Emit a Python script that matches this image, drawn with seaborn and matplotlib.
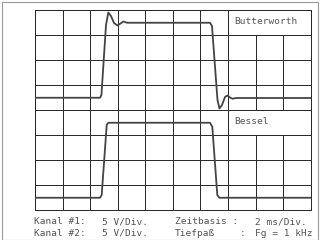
import matplotlib
matplotlib.use("Agg")
import matplotlib.pyplot as plt
from matplotlib.patches import Rectangle
import seaborn as sns
import pandas as pd

# Trace data in screen divisions (x: 0..10 div, y: 0..8 div)
butter_x = [0, 2.358, 2.41, 2.575, 2.66, 2.757, 2.865, 2.992, 3.101, 3.21, 3.337,
            6.347, 6.42, 6.619, 6.692, 6.783, 6.892, 6.982, 7.073, 7.164, 7.29, 10]
butter_y = [4.49, 4.49, 4.60, 7.40, 7.90, 7.76, 7.48, 7.38, 7.46, 7.54, 7.49,
            7.49, 7.36, 4.40, 4.06, 4.20, 4.52, 4.58, 4.50, 4.45, 4.48, 4.48]
bessel_x = [0, 2.358, 2.419, 2.601, 2.659, 6.347, 6.431, 6.612, 6.685, 10]
bessel_y = [0.49, 0.49, 0.60, 3.40, 3.49, 3.49, 3.33, 0.60, 0.49, 0.49]

labels = ["Butterworth", "Bessel"]
info_line1 = ["Kanal #1:", "5 V/Div.", "Zeitbasis :", "2 ms/Div."]
info_line2 = ["Kanal #2:", "5 V/Div.", "Tiefpaß", ":", "Fg = 1 kHz"]

sns.set_style("white")
plt.rcParams['font.family'] = ['DejaVu Sans Mono', 'DejaVu Sans']

fig = plt.figure(figsize=(3.2, 2.4), dpi=100)
W, H = 320.0, 240.0
ax = fig.add_axes([35 / W, 1 - 210 / H, 275.7 / W, 200 / H])
ax.set_xlim(0, 10)
ax.set_ylim(0, 8)

grid_col = "#262626"
ax.set_xticks(range(11))
ax.set_yticks(range(9))
ax.tick_params(length=0, labelbottom=False, labelleft=False)
ax.grid(True, color=grid_col, lw=0.7)
ax.set_axisbelow(True)
for s in ax.spines.values():
    s.set_color(grid_col)
    s.set_linewidth(0.7)

# label boxes (grid cleared)
for (x0, y0) in [(7, 7), (7, 3)]:
    ax.add_patch(Rectangle((x0, y0), 3, 1, facecolor="white", edgecolor=grid_col,
                           lw=0.7, zorder=1, clip_on=False))

df_b = pd.DataFrame({"x": butter_x, "y": butter_y})
df_s = pd.DataFrame({"x": bessel_x, "y": bessel_y})
trace_col = "#444444"
sns.lineplot(data=df_b, x="x", y="y", ax=ax, color=trace_col, lw=1.3,
             sort=False, estimator=None, zorder=3)
sns.lineplot(data=df_s, x="x", y="y", ax=ax, color=trace_col, lw=1.3,
             sort=False, estimator=None, zorder=3)
ax.set_xlabel("")
ax.set_ylabel("")

txt_col = "#555555"
ax.text(7.23, 7.53, labels[0], fontsize=6.8, color=txt_col, va="center", ha="left", zorder=4)
ax.text(7.22, 3.52, labels[1], fontsize=6.8, color=txt_col, va="center", ha="left", zorder=4)

xs1 = [34, 101.7, 175, 255]
for t, xp in zip(info_line1, xs1):
    fig.text(xp / W, 1 - 224.5 / H, t, fontsize=6.8, color=txt_col, va="baseline", ha="left")
xs2 = [34, 101.7, 175, 240, 255]
for t, xp in zip(info_line2, xs2):
    fig.text(xp / W, 1 - 235.5 / H, t, fontsize=6.8, color=txt_col, va="baseline", ha="left")

# outer frame
fig.patches.append(Rectangle((1.5 / W, 0.5 / H), 316.5 / W, 238 / H, transform=fig.transFigure,
                             facecolor="none", edgecolor="#999999", lw=0.8, figure=fig))

fig.savefig("out.png", dpi=100)
